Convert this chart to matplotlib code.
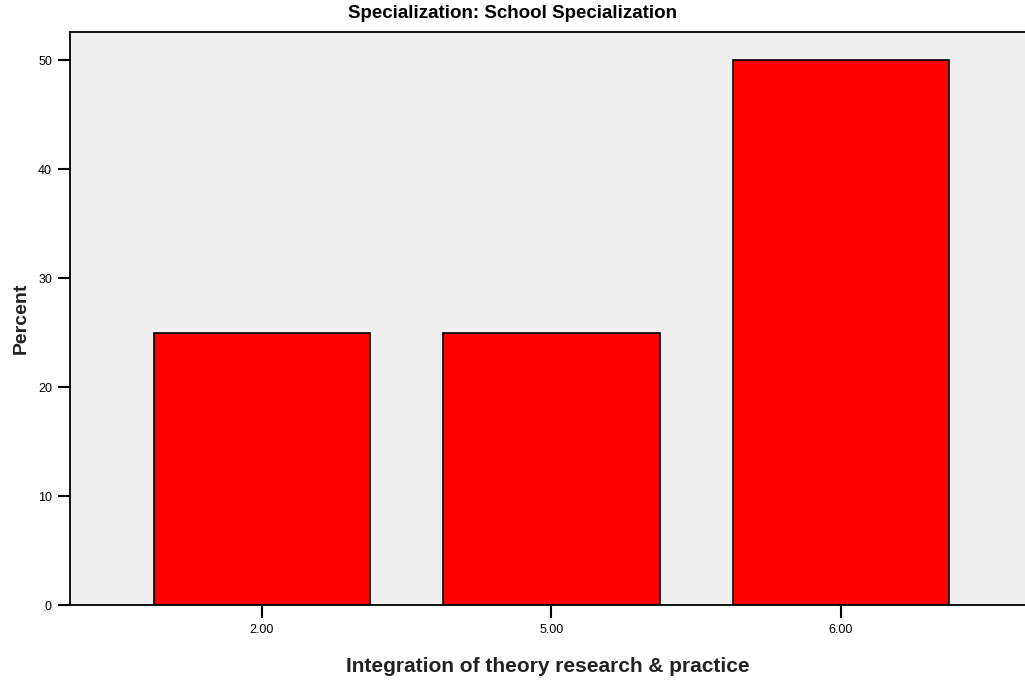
import matplotlib
matplotlib.use('Agg')
import matplotlib.pyplot as plt

# Percent of respondents by integration score
categories = ['2.00', '5.00', '6.00']
percent = [25, 25, 50]

plt.rcParams['font.family'] = ['Liberation Sans', 'DejaVu Sans']

fig = plt.figure(figsize=(10.25, 6.83), dpi=100)
ax = fig.add_axes([0.0683, 0.1142, 0.9317, 0.8388])
ax.set_facecolor('#f0f0f0')

x = range(len(categories))
ax.bar(x, percent, width=0.747, color='#ff0000', edgecolor='black', linewidth=1.2)

ax.set_xlim(-0.663, 2.636)
ax.set_ylim(0, 52.6)
ax.set_xticks(list(x))
ax.set_xticklabels(categories, fontsize=9)
ax.set_yticks([0, 10, 20, 30, 40, 50])
ax.tick_params(axis='x', labelsize=9, width=1.5, length=9.5, pad=4, color='black')
ax.tick_params(axis='y', labelsize=9, width=1.5, length=9, pad=4, color='black')

for side in ['left', 'bottom', 'top']:
    ax.spines[side].set_linewidth(1.3)
ax.spines['right'].set_visible(False)

fig.text(0.5, 1 - 14 / 683, 'Specialization: School Specialization',
         fontsize=13.5, fontweight='bold', ha='center', va='center')
ax.set_xlabel('Integration of theory research & practice', fontsize=15,
              fontweight='bold', color='#222222', labelpad=15)
ax.set_ylabel('Percent', fontsize=14, fontweight='bold', color='#222222', labelpad=6)

plt.savefig('out.png', dpi=100)
